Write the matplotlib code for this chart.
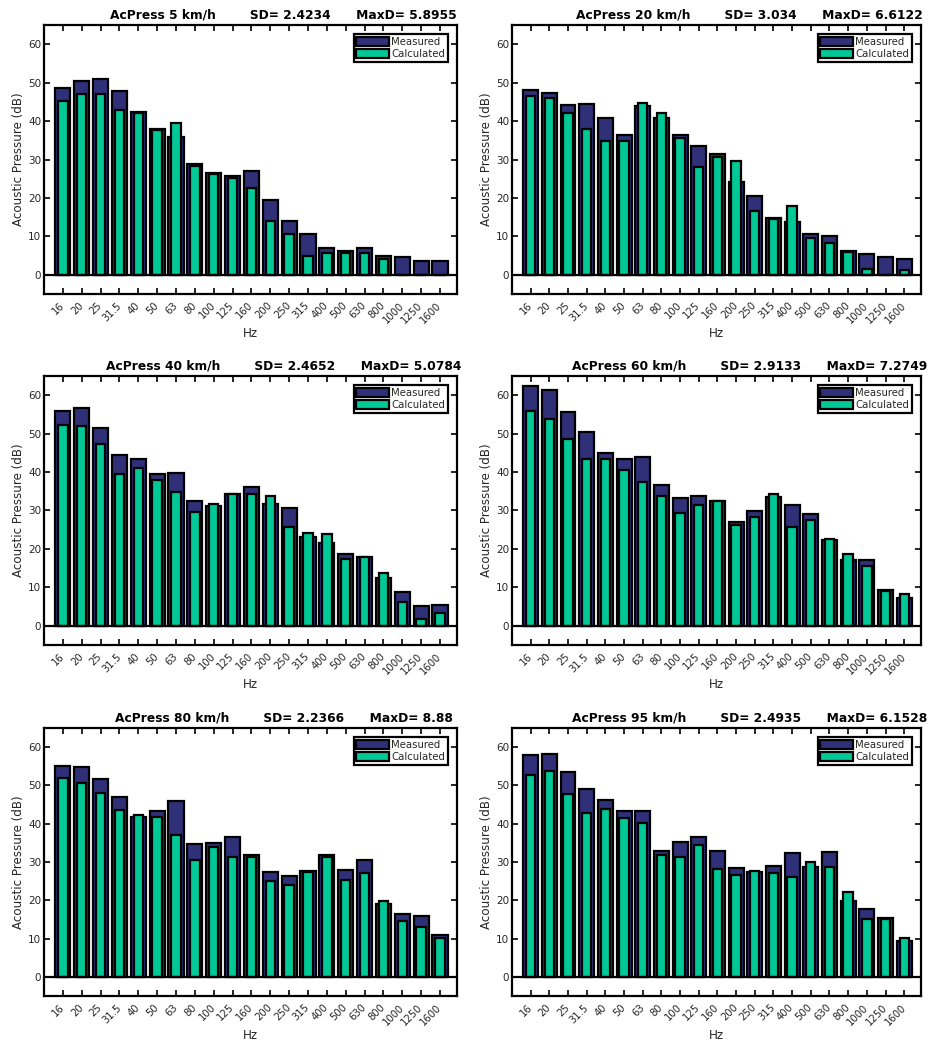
import matplotlib
matplotlib.use("Agg")
import matplotlib.pyplot as plt
import numpy as np

freq_labels = ["16", "20", "25", "31.5", "40", "50", "63", "80", "100", "125", "160",
               "200", "250", "315", "400", "500", "630", "800", "1000", "1250", "1600"]

speeds = ["5", "20", "40", "60", "80", "95"]
sd_vals = ["2.4234", "3.034", "2.4652", "2.9133", "2.2366", "2.4935"]
maxd_vals = ["5.8955", "6.6122", "5.0784", "7.2749", "8.88", "6.1528"]

meas_5 = [48.7, 50.5, 51.0, 47.8, 42.4, 38.0, 35.9, 28.9, 26.5, 25.6, 27.1,
          19.5, 14.1, 10.7, 7.0, 6.1, 7.0, 4.8, 4.7, 3.7, 3.7]
calc_5 = [45.3, 47.1, 47.1, 42.9, 42.1, 37.7, 39.5, 28.4, 26.2, 25.2, 22.7,
          14.1, 10.6, 4.9, 5.6, 5.6, 5.6, 4.2, 0.0, 0.0, 0.0]

meas_20 = [48.0, 47.4, 44.1, 44.5, 40.7, 36.5, 44.0, 40.9, 36.3, 33.6, 31.4,
           24.2, 20.4, 14.7, 13.8, 10.6, 10.1, 6.2, 5.5, 4.5, 4.2]
calc_20 = [46.6, 45.9, 42.2, 37.9, 34.9, 34.9, 44.7, 42.2, 35.6, 28.0, 30.6,
           29.7, 16.7, 14.6, 17.8, 9.7, 8.2, 6.0, 1.6, 0.0, 1.3]

meas_40 = [55.9, 56.6, 51.4, 44.5, 43.3, 39.5, 39.7, 32.6, 31.2, 34.2, 36.1,
           31.6, 30.7, 23.1, 21.5, 18.7, 17.9, 12.5, 8.8, 5.1, 5.3]
calc_40 = [52.2, 52.0, 47.2, 39.5, 41.1, 38.0, 34.7, 29.5, 31.6, 34.4, 34.4,
           33.8, 25.6, 24.1, 23.9, 17.3, 18.0, 13.7, 6.1, 1.7, 3.3]

meas_60 = [62.4, 61.3, 55.6, 50.3, 45.0, 43.4, 43.9, 36.6, 33.3, 33.9, 32.6,
           27.1, 29.9, 33.6, 31.5, 29.1, 22.2, 17.2, 17.0, 9.3, 7.3]
calc_60 = [55.8, 53.9, 48.7, 43.5, 43.5, 40.6, 37.4, 33.8, 29.4, 31.4, 32.4,
           26.3, 28.4, 34.3, 25.8, 27.5, 22.5, 18.7, 15.5, 9.1, 8.2]

meas_80 = [55.2, 54.7, 51.7, 47.0, 41.8, 43.2, 46.0, 34.8, 34.9, 36.5, 31.9,
           27.3, 26.4, 27.7, 31.7, 27.8, 30.6, 19.0, 16.5, 15.8, 11.0]
calc_80 = [52.0, 50.7, 47.9, 43.6, 42.3, 41.8, 37.0, 30.4, 33.9, 31.3, 31.4,
           25.0, 24.0, 27.5, 31.4, 25.2, 27.1, 19.8, 14.5, 12.9, 10.2]

meas_95 = [57.9, 58.3, 53.6, 49.0, 46.1, 43.3, 43.3, 33.0, 35.2, 36.4, 33.0,
           28.4, 27.3, 29.0, 32.3, 28.8, 32.7, 19.7, 17.6, 15.4, 9.3]
calc_95 = [52.8, 53.7, 47.8, 42.9, 43.8, 41.5, 40.1, 31.8, 31.4, 34.5, 28.3,
           26.5, 27.7, 27.1, 26.2, 29.9, 28.8, 22.1, 15.1, 15.2, 10.2]

measured = [meas_5, meas_20, meas_40, meas_60, meas_80, meas_95]
calculated = [calc_5, calc_20, calc_40, calc_60, calc_80, calc_95]

C_MEAS = "#303079"
C_CALC = "#00c896"
TXT = "#262626"

fig = plt.figure(figsize=(9.3, 10.42), dpi=100)

W, H = 930.0, 1042.0
col_x = [(44, 457), (512, 921)]
row_y = [(25, 294), (376, 645), (728, 996)]

x = np.arange(1, len(freq_labels) + 1)

for i in range(6):
    r, c = divmod(i, 2)
    x0, x1 = col_x[c]
    ytop, ybot = row_y[r]
    ax = fig.add_axes([x0 / W, 1 - ybot / H, (x1 - x0) / W, (ybot - ytop) / H])
    ax.bar(x, measured[i], width=0.8, color=C_MEAS, edgecolor="black",
           linewidth=1.6, zorder=2, label="Measured")
    ax.bar(x, calculated[i], width=0.5, color=C_CALC, edgecolor="black",
           linewidth=1.6, zorder=3, label="Calculated")
    ax.axhline(0, color="black", linewidth=1.6, zorder=4)
    ax.set_xlim(0, 21.9)
    ax.set_ylim(-5, 65)
    ax.set_yticks(np.arange(0, 61, 10))
    ax.set_xticks(x)
    ax.set_xticklabels(freq_labels, rotation=45, ha="right", va="center",
                       rotation_mode="anchor", fontsize=7.2, color=TXT)
    for lab in ax.get_yticklabels():
        lab.set_fontsize(7.5)
        lab.set_color(TXT)
    ax.tick_params(axis="both", direction="in", top=True, right=True,
                   length=4, width=1.2, color="black", pad=2)
    ax.tick_params(axis="x", pad=7)
    for sp in ax.spines.values():
        sp.set_linewidth(1.6)
        sp.set_color("black")
    ax.set_ylabel("Acoustic Pressure (dB)", fontsize=8.6, color=TXT, labelpad=2)
    ax.set_xlabel("Hz", fontsize=8.6, color=TXT, labelpad=1)
    title = ("AcPress " + speeds[i] + " km/h" + " " * 8 + "SD= " + sd_vals[i]
             + " " * 6 + "MaxD= " + maxd_vals[i])
    ax.text(0.58, 1.012, title, transform=ax.transAxes, ha="center", va="bottom",
            fontsize=8.8, fontweight="bold", color="black")
    leg = ax.legend(loc="upper right", fontsize=7.3, frameon=True, fancybox=False,
                    edgecolor="black", framealpha=1, borderaxespad=0.9,
                    handlelength=3.2, handleheight=1.0, handletextpad=0.25,
                    labelspacing=0.25, borderpad=0.25)
    leg.get_frame().set_linewidth(1.6)
    for t in leg.get_texts():
        t.set_color(TXT)

fig.savefig("out.png", dpi=100)
